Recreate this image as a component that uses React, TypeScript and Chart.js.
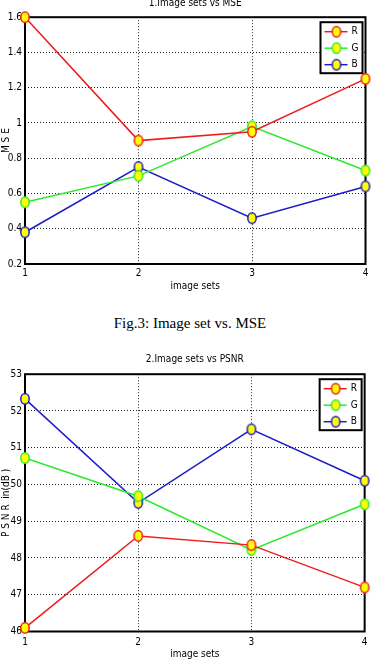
import { useEffect, useRef } from 'react';
import { Chart, registerables } from 'chart.js';

Chart.register(...registerables);

// ---- data ----
const imageSets = ['1', '2', '3', '4'];
const seriesNames = ['R', 'G', 'B'];
const seriesColors = ['#ee1c1c', '#2ee82e', '#1c1cc8'];

const mseR = [1.6, 0.9, 0.95, 1.25];
const mseG = [0.55, 0.7, 0.98, 0.73];
const mseB = [0.38, 0.75, 0.46, 0.64];
const mseTicks = [0.2, 0.4, 0.6, 0.8, 1, 1.2, 1.4, 1.6];

const psnrR = [46.1, 48.6, 48.35, 47.2];
const psnrG = [50.72, 49.68, 48.22, 49.46];
const psnrB = [52.33, 49.5, 51.5, 50.1];
const psnrTicks = [46, 47, 48, 49, 50, 51, 52, 53];

const FONT_FAMILY = "'Liberation Sans Narrow', 'DejaVu Sans Condensed', 'Liberation Sans', Arial, sans-serif";
const FONT_SIZE = 10;

const markerCache: Record<string, HTMLCanvasElement> = {};
function makeMarker(color: string): HTMLCanvasElement {
  if (markerCache[color]) return markerCache[color];
  const c = document.createElement('canvas');
  c.width = 12;
  c.height = 14;
  const g = c.getContext('2d')!;
  g.beginPath();
  g.ellipse(6, 7, 4.2, 5.2, 0, 0, Math.PI * 2);
  g.fillStyle = '#ffff00';
  g.fill();
  g.strokeStyle = color;
  g.lineWidth = 1.5;
  g.stroke();
  markerCache[color] = c;
  return c;
}

const framePlugin = {
  id: 'frame',
  beforeDatasetsDraw(chart: any) {
    const { ctx, chartArea } = chart;
    ctx.save();
    ctx.strokeStyle = '#000';
    ctx.lineWidth = 2;
    ctx.strokeRect(chartArea.left, chartArea.top, chartArea.right - chartArea.left, chartArea.bottom - chartArea.top);
    ctx.restore();
  },
};

const boxLegendPlugin = {
  id: 'boxLegend',
  afterDraw(chart: any) {
    const { ctx, chartArea } = chart;
    const w = 42;
    const h = 51;
    const right = chartArea.right - 3;
    const left = right - w;
    const top = chartArea.top + 5;
    ctx.save();
    ctx.fillStyle = '#fff';
    ctx.fillRect(left, top, w, h);
    ctx.strokeStyle = '#000';
    ctx.lineWidth = 2;
    ctx.strokeRect(left, top, w, h);
    chart.data.datasets.forEach((ds: any, i: number) => {
      const y = top + 9.5 + i * 16.5;
      ctx.strokeStyle = ds.borderColor;
      ctx.lineWidth = 1.5;
      ctx.beginPath();
      ctx.moveTo(left + 4, y);
      ctx.lineTo(left + 27, y);
      ctx.stroke();
      const m = makeMarker(ds.borderColor);
      ctx.drawImage(m, left + 16 - m.width / 2, y - m.height / 2);
      ctx.fillStyle = '#000';
      ctx.font = `${FONT_SIZE}px ${FONT_FAMILY}`;
      ctx.textBaseline = 'middle';
      ctx.textAlign = 'left';
      ctx.fillText(ds.label, left + 31, y);
    });
    ctx.restore();
  },
};

type Cfg = {
  title: string;
  yTitle: string;
  series: number[][];
  ticks: number[];
  width: number;
  height: number;
  titlePad: { top: number; bottom: number };
  xHeight: number;
  xTickPad: number;
  xTitlePadBottom: number;
};

function LineChart({ cfg }: { cfg: Cfg }) {
  const ref = useRef<HTMLCanvasElement>(null);
  useEffect(() => {
    if (!ref.current) return;
    const font = { family: FONT_FAMILY, size: FONT_SIZE };
    const chart = new Chart(ref.current, {
      type: 'line',
      data: {
        labels: imageSets,
        datasets: cfg.series.map((vals, i) => ({
          label: seriesNames[i],
          data: vals,
          borderColor: seriesColors[i],
          backgroundColor: '#ffff00',
          pointStyle: makeMarker(seriesColors[i]),
          pointRadius: 5,
          borderWidth: 1.5,
          tension: 0,
          clip: false as any,
        })),
      },
      options: {
        responsive: false,
        animation: false,
        layout: { padding: { left: 0, right: 5, top: 0, bottom: 0 } },
        plugins: {
          legend: { display: false },
          tooltip: { enabled: false },
          title: {
            display: true,
            fullSize: false,
            text: cfg.title,
            color: '#000',
            font: { ...font, weight: 'normal' },
            padding: cfg.titlePad,
          },
        },
        scales: {
          x: {
            type: 'category',
            offset: false,
            afterFit: (s: any) => {
              s.height = cfg.xHeight;
            },
            ticks: { font, color: '#000', padding: cfg.xTickPad, maxRotation: 0, autoSkip: false },
            grid: { color: '#222', lineWidth: 1, drawTicks: false },
            border: { display: false, dash: [1, 2] },
            title: {
              display: true,
              text: 'image sets',
              color: '#000',
              font,
              padding: { top: 0, bottom: cfg.xTitlePadBottom },
            },
          },
          y: {
            min: cfg.ticks[0],
            max: cfg.ticks[cfg.ticks.length - 1],
            afterBuildTicks: (s: any) => {
              s.ticks = cfg.ticks.map((v) => ({ value: v }));
            },
            afterFit: (s: any) => {
              s.width = 25;
            },
            ticks: { font, color: '#000', padding: 3, callback: (v: any) => String(v) },
            grid: { color: '#222', lineWidth: 1, drawTicks: false },
            border: { display: false, dash: [1, 2] },
            title: {
              display: true,
              text: cfg.yTitle,
              color: '#000',
              font,
              padding: { top: 0, bottom: 0 },
            },
          },
        },
      } as any,
      plugins: [framePlugin, boxLegendPlugin],
    });
    return () => chart.destroy();
  }, [cfg]);
  return <canvas ref={ref} width={cfg.width} height={cfg.height} style={{ display: 'block' }} />;
}

const mseCfg: Cfg = {
  title: '1.Image sets vs MSE',
  yTitle: 'M S E',
  series: [mseR, mseG, mseB],
  ticks: mseTicks,
  width: 372,
  height: 303,
  titlePad: { top: 0, bottom: 8.2 },
  xHeight: 36,
  xTickPad: 3,
  xTitlePadBottom: 7.1,
};

const psnrCfg: Cfg = {
  title: '2.Image sets vs PSNR',
  yTitle: 'P S N R  in(dB )',
  series: [psnrR, psnrG, psnrB],
  ticks: psnrTicks,
  width: 372,
  height: 319,
  titlePad: { top: 8.6, bottom: 8.6 },
  xHeight: 32.5,
  xTickPad: 4.5,
  xTitlePadBottom: 3.6,
};

export default function App() {
  return (
    <div style={{ position: 'absolute', left: 0, top: 0, width: 372, height: 664, background: '#fff', overflow: 'hidden' }}>
      <div style={{ position: 'absolute', left: 0, top: -3, width: 372, height: 303 }}>
        <LineChart cfg={mseCfg} />
      </div>
      <div
        style={{
          position: 'absolute',
          left: 4,
          top: 314,
          width: 372,
          textAlign: 'center',
          fontFamily: "'Liberation Serif', serif",
          fontSize: 15,
          lineHeight: '18px',
          color: '#000',
          whiteSpace: 'nowrap',
        }}
      >
        Fig.3: Image set vs. MSE
      </div>
      <div style={{ position: 'absolute', left: 0, top: 345, width: 372, height: 319 }}>
        <LineChart cfg={psnrCfg} />
      </div>
    </div>
  );
}
